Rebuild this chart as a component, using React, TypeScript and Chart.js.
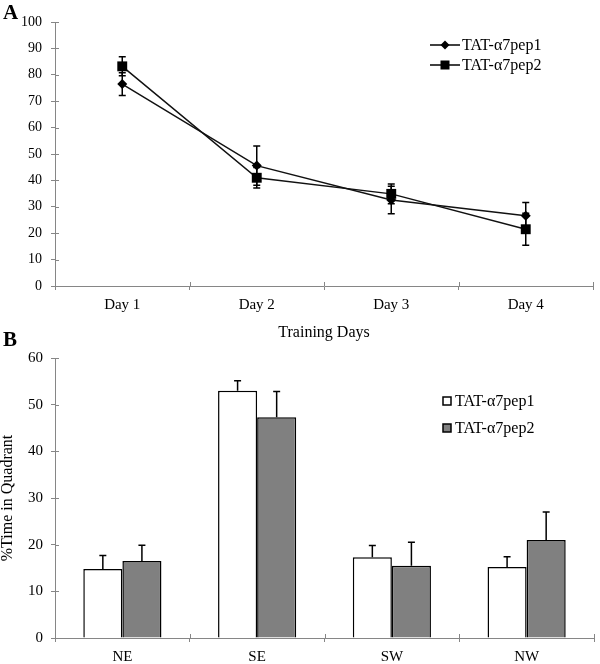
import React, { useEffect, useRef } from "react";
import { Chart, registerables } from "chart.js";

Chart.register(...registerables);

const FONT = '"Liberation Serif", "Times New Roman", serif';
const AXIS = "#868686";

// ---- Panel A data ----
const days = ["Day 1", "Day 2", "Day 3", "Day 4"];
const seriesNames = ["TAT-α7pep1", "TAT-α7pep2"];
const linePep1 = [76.5, 45.6, 32.6, 26.6];
const linePep1Err = [4.3, 7.4, 5.2, 5.0];
const linePep2 = [83.2, 41.0, 34.9, 21.5];
const linePep2Err = [3.6, 3.9, 3.7, 6.1];
const xTitleA = "Training Days";

// ---- Panel B data ----
const quadrants = ["NE", "SE", "SW", "NW"];
const barPep1 = [14.8, 53.0, 17.3, 15.2];
const barPep1Err = [2.9, 2.1, 2.5, 2.2];
const barPep2 = [16.5, 47.3, 15.5, 21.0];
const barPep2Err = [3.4, 5.5, 5.0, 6.0];
const yTitleB = "%Time in Quadrant";

const crossTicks = {
  id: "crossTicks",
  afterDraw(chart: any) {
    const { ctx, chartArea, scales } = chart;
    ctx.save();
    ctx.strokeStyle = AXIS;
    ctx.lineWidth = 1;
    ctx.beginPath();
    const y = scales.y;
    y.ticks.forEach((_t: any, i: number) => {
      const py = Math.round(y.getPixelForTick(i)) + 0.5;
      ctx.moveTo(chartArea.left, py);
      ctx.lineTo(chartArea.left + 4, py);
    });
    const x = scales.x;
    const n = x.ticks.length;
    for (let i = 0; i <= n; i++) {
      const px = Math.round(chartArea.left + (i * (chartArea.right - chartArea.left)) / n) + 0.5;
      ctx.moveTo(px, chartArea.bottom);
      ctx.lineTo(px, chartArea.bottom - 4);
    }
    ctx.stroke();
    ctx.restore();
  },
};

function makeErrorPlugin(errs: number[][], twoSided: boolean) {
  return {
    id: "errorBars",
    afterDatasetsDraw(chart: any) {
      const { ctx, scales } = chart;
      ctx.save();
      ctx.strokeStyle = "#000";
      ctx.lineWidth = 1.5;
      chart.data.datasets.forEach((ds: any, di: number) => {
        const meta = chart.getDatasetMeta(di);
        meta.data.forEach((el: any, i: number) => {
          const v = ds.data[i];
          const e = errs[di][i];
          const x = el.x;
          const yTop = scales.y.getPixelForValue(v + e);
          const yBot = twoSided ? scales.y.getPixelForValue(v - e) : scales.y.getPixelForValue(v);
          ctx.beginPath();
          ctx.moveTo(x, yTop);
          ctx.lineTo(x, yBot);
          ctx.moveTo(x - 3.5, yTop);
          ctx.lineTo(x + 3.5, yTop);
          if (twoSided) {
            ctx.moveTo(x - 3.5, yBot);
            ctx.lineTo(x + 3.5, yBot);
          }
          ctx.stroke();
        });
      });
      ctx.restore();
    },
  };
}

const legendA = {
  id: "legendA",
  afterDraw(chart: any) {
    const { ctx } = chart;
    ctx.save();
    const rows = [45, 65];
    chart.data.datasets.forEach((ds: any, i: number) => {
      const y = rows[i];
      ctx.strokeStyle = "#000";
      ctx.lineWidth = 1.5;
      ctx.beginPath();
      ctx.moveTo(430, y);
      ctx.lineTo(460, y);
      ctx.stroke();
      ctx.fillStyle = "#000";
      ctx.beginPath();
      if (i === 0) {
        ctx.moveTo(445, y - 4.5);
        ctx.lineTo(449.5, y);
        ctx.lineTo(445, y + 4.5);
        ctx.lineTo(440.5, y);
        ctx.closePath();
      } else {
        ctx.rect(440.5, y - 4.5, 9, 9);
      }
      ctx.fill();
      ctx.font = `16px ${FONT}`;
      ctx.textBaseline = "middle";
      ctx.textAlign = "left";
      ctx.fillText(ds.label, 462, y + 1);
    });
    ctx.restore();
  },
};

const legendB = {
  id: "legendB",
  afterDraw(chart: any) {
    const { ctx } = chart;
    ctx.save();
    const rows = [61, 88];
    chart.data.datasets.forEach((ds: any, i: number) => {
      const y = rows[i];
      ctx.fillStyle = ds.backgroundColor;
      ctx.fillRect(443, y - 4, 8, 8);
      ctx.strokeStyle = "#000";
      ctx.lineWidth = 1.5;
      ctx.strokeRect(443, y - 4, 8, 8);
      ctx.fillStyle = "#000";
      ctx.font = `16px ${FONT}`;
      ctx.textBaseline = "middle";
      ctx.textAlign = "left";
      ctx.fillText(ds.label, 455, y + 1);
    });
    ctx.restore();
  },
};

function ChartA() {
  const ref = useRef<HTMLCanvasElement>(null);
  useEffect(() => {
    const chart = new Chart(ref.current as HTMLCanvasElement, {
      type: "line",
      data: {
        labels: days,
        datasets: [
          {
            label: seriesNames[0],
            data: linePep1,
            borderColor: "#111",
            borderWidth: 1.5,
            pointStyle: "rectRot",
            pointRadius: 5,
            pointBackgroundColor: "#000",
            pointBorderColor: "#000",
            pointBorderWidth: 0,
            tension: 0,
          },
          {
            label: seriesNames[1],
            data: linePep2,
            borderColor: "#111",
            borderWidth: 1.5,
            pointStyle: "rect",
            pointRadius: 7,
            pointBackgroundColor: "#000",
            pointBorderColor: "#000",
            pointBorderWidth: 0,
            tension: 0,
          },
        ],
      },
      options: {
        responsive: false,
        animation: false,
        layout: { padding: { top: 22, right: 2, left: 0, bottom: 0 } },
        plugins: { legend: { display: false }, tooltip: { enabled: false } },
        scales: {
          x: {
            type: "category",
            offset: true,
            grid: { offset: true, drawOnChartArea: false, color: AXIS, tickLength: 4 },
            border: { color: AXIS, width: 1 },
            ticks: { color: "#000", font: { family: FONT, size: 15 }, padding: 6 },
            title: {
              display: true,
              text: xTitleA,
              color: "#000",
              font: { family: FONT, size: 16 },
              padding: { top: 0, bottom: 3 },
            },
            afterFit: (s: any) => {
              s.height = 59;
            },
          },
          y: {
            min: 0,
            max: 100,
            grid: { drawOnChartArea: false, color: AXIS, tickLength: 4 },
            border: { color: AXIS, width: 1 },
            ticks: { stepSize: 10, color: "#000", font: { family: FONT, size: 14 }, padding: 9 },
            afterFit: (s: any) => {
              s.width = 55;
            },
          },
        },
      },
      plugins: [crossTicks, makeErrorPlugin([linePep1Err, linePep2Err], true), legendA],
    } as any);
    return () => chart.destroy();
  }, []);
  return (
    <canvas
      ref={ref}
      width={600}
      height={345}
      style={{ position: "absolute", left: 0, top: 0, display: "block" }}
    />
  );
}

function ChartB() {
  const ref = useRef<HTMLCanvasElement>(null);
  useEffect(() => {
    const chart = new Chart(ref.current as HTMLCanvasElement, {
      type: "bar",
      data: {
        labels: quadrants,
        datasets: [
          {
            label: seriesNames[0],
            data: barPep1,
            backgroundColor: "#ffffff",
            borderColor: "#000",
            borderWidth: 1.5,
            categoryPercentage: 0.58,
            barPercentage: 1,
          },
          {
            label: seriesNames[1],
            data: barPep2,
            backgroundColor: "#808080",
            borderColor: "#000",
            borderWidth: 1.5,
            categoryPercentage: 0.58,
            barPercentage: 1,
          },
        ],
      },
      options: {
        responsive: false,
        animation: false,
        layout: { padding: { top: 18, right: 6, left: 0, bottom: 0 } },
        plugins: { legend: { display: false }, tooltip: { enabled: false } },
        scales: {
          x: {
            grid: { offset: true, drawOnChartArea: false, color: AXIS, tickLength: 4 },
            border: { color: AXIS, width: 1 },
            ticks: { color: "#000", font: { family: FONT, size: 15 }, padding: 6 },
            afterFit: (s: any) => {
              s.height = 26;
            },
          },
          y: {
            min: 0,
            max: 60,
            grid: { drawOnChartArea: false, color: AXIS, tickLength: 4 },
            border: { color: AXIS, width: 1 },
            ticks: { stepSize: 10, color: "#000", font: { family: FONT, size: 15 }, padding: 8 },
            title: {
              display: true,
              text: yTitleB,
              color: "#000",
              font: { family: FONT, size: 16, lineHeight: 1 },
              padding: { top: 0, bottom: 0 },
            },
            afterFit: (s: any) => {
              s.width = 55;
            },
          },
        },
      },
      plugins: [crossTicks, makeErrorPlugin([barPep1Err, barPep2Err], false), legendB],
    } as any);
    return () => chart.destroy();
  }, []);
  return (
    <canvas
      ref={ref}
      width={600}
      height={324}
      style={{ position: "absolute", left: 0, top: 340, display: "block" }}
    />
  );
}

export default function App() {
  const label: React.CSSProperties = {
    position: "absolute",
    fontFamily: FONT,
    fontWeight: "bold",
    fontSize: 21,
    lineHeight: "21px",
    color: "#000",
  };
  return (
    <div
      style={{
        position: "absolute",
        left: 0,
        top: 0,
        width: 600,
        height: 664,
        background: "#fff",
        overflow: "hidden",
      }}
    >
      <ChartA />
      <ChartB />
      <div style={{ ...label, left: 3, top: 2 }}>A</div>
      <div style={{ ...label, left: 3, top: 329 }}>B</div>
    </div>
  );
}
